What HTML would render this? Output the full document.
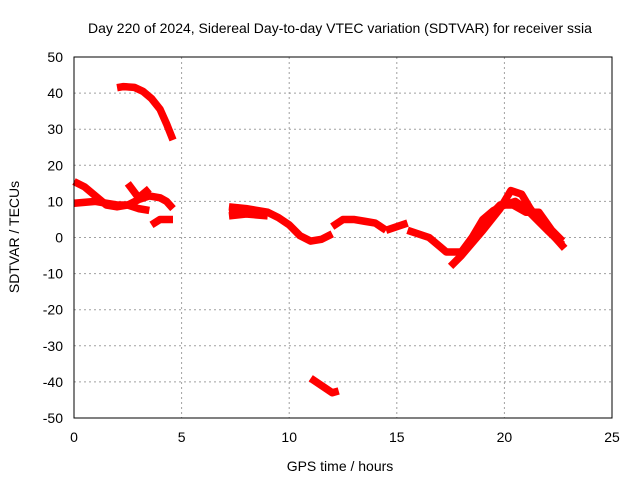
<!DOCTYPE html>
<html><head><meta charset="utf-8"><style>
body{margin:0;background:#fff;}
svg{display:block;font-family:"Liberation Sans",sans-serif;}
</style></head><body>
<svg id="chart" width="640" height="480">
<text x="340" y="33" font-size="14" text-anchor="middle">Day 220 of 2024, Sidereal Day-to-day VTEC variation (SDTVAR) for receiver ssia</text>
<text x="340" y="471" font-size="14" text-anchor="middle">GPS time / hours</text>
<text transform="translate(19,237) rotate(-90)" font-size="14" text-anchor="middle">SDTVAR / TECUs</text>
<g id="grid"></g><g id="series"></g>
<rect x="74" y="57" width="538" height="361" fill="none" stroke="#000" stroke-width="1"/>
</svg>
<script>
const xTicks=[0,5,10,15,20,25];
const yTicks=[-50,-40,-30,-20,-10,0,10,20,30,40,50];
const trackA=[[2.0,41.5],[2.3,41.8],[2.8,41.6],[3.2,40.5],[3.6,38.5],[4.0,35.5],[4.3,31.5],[4.6,27]];
const trackB=[[0,15.5],[0.5,14],[1.0,11.5],[1.5,9],[2.0,8.5],[2.5,9],[3.0,8],[3.5,7.5]];
const trackC=[[0,9.5],[1.0,10],[2.0,9],[2.5,9],[3.0,10.5],[3.5,11.5],[4.0,11],[4.3,10],[4.6,8]];
const trackC2=[[2.5,15],[3.0,11],[3.5,13.5]];
const trackD=[[3.6,3.5],[4.0,5],[4.6,5]];
const trackE=[[7.2,8.5],[8.0,8],[9.0,7],[9.5,5.5],[10.0,3.5],[10.5,0.5],[11.0,-1],[11.5,-0.5],[12.0,1]];
const trackF=[[7.2,6],[8.0,6.5],[9.0,6]];
const trackF2=[[7.2,7.5],[8.0,7.5],[9.0,6.5]];
const trackG=[[12.0,3],[12.5,5],[13.0,5],[13.5,4.5],[14.0,4],[14.5,2]];
const trackH=[[14.5,2],[15.0,3],[15.5,4]];
const trackI=[[15.5,2],[16.5,0],[17.0,-2.5],[17.3,-4],[18.0,-4],[18.5,0],[19.0,5],[19.5,7.5],[20.0,9],[20.5,10],[21.0,8],[21.5,5],[22.0,2],[22.7,-2]];
const trackJ=[[17.5,-8],[18.0,-5],[19.0,2],[19.8,8],[20.3,13],[20.8,12],[21.2,8],[21.7,4],[22.2,1],[22.8,-3]];
const trackL=[[19.0,4],[19.8,9],[20.4,9],[21.0,7],[21.6,7],[22.2,2],[22.7,-1]];
const trackK=[[11.0,-39],[11.5,-41],[12.0,-43],[12.3,-42.5]];
const tracks=[trackA,trackB,trackC,trackC2,trackD,trackE,trackF,trackF2,trackG,trackH,trackI,trackJ,trackL,trackK];
const NS="http://www.w3.org/2000/svg";
function sx(v){return 74+(v-0)/25*538;}
function sy(v){return 418-(v+50)/100*361;}
const grid=document.getElementById('grid');
xTicks.forEach(t=>{
 const x=sx(t);
 if(t>0&&t<25){const l=document.createElementNS(NS,'line');
 l.setAttribute('x1',x);l.setAttribute('x2',x);l.setAttribute('y1',57);l.setAttribute('y2',418);
 l.setAttribute('stroke','#a0a0a0');l.setAttribute('stroke-dasharray','2,3');
 
 grid.appendChild(l);}
 const tx=document.createElementNS(NS,'text');
 tx.setAttribute('x',x);tx.setAttribute('y',442);tx.setAttribute('font-size','14');tx.setAttribute('text-anchor','middle');
 tx.textContent=t;
 
 grid.appendChild(tx);
});
yTicks.forEach(t=>{
 const y=sy(t);
 if(t>-50&&t<50){const l=document.createElementNS(NS,'line');
 l.setAttribute('x1',74);l.setAttribute('x2',612);l.setAttribute('y1',y);l.setAttribute('y2',y);
 l.setAttribute('stroke','#a0a0a0');l.setAttribute('stroke-dasharray','2,3');
 
 grid.appendChild(l);}
 const tx=document.createElementNS(NS,'text');
 tx.setAttribute('x',63);tx.setAttribute('y',y+5);tx.setAttribute('font-size','14');tx.setAttribute('text-anchor','end');
 tx.textContent=t;
 
 grid.appendChild(tx);
});
const ser=document.getElementById('series');
tracks.forEach(tr=>{
 const p=document.createElementNS(NS,'polyline');
 p.setAttribute('points',tr.map(d=>sx(d[0])+','+sy(d[1])).join(' '));
 p.setAttribute('fill','none');p.setAttribute('stroke','#ff0000');p.setAttribute('stroke-width','7.5');
 p.setAttribute('stroke-linejoin','round');
 
 
 ser.appendChild(p);
});
</script>
</body></html>
